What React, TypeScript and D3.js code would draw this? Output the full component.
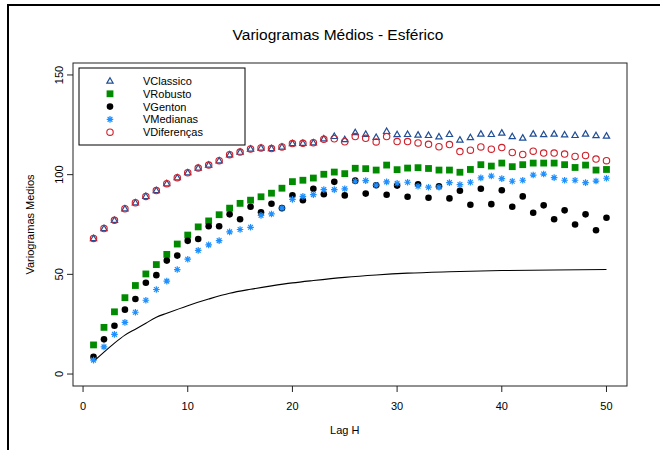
import React from "react";
import * as d3 from "d3";

// lags 1..50
const lags = d3.range(1, 51);

const vClassico = [
  68.0, 73.0, 77.1, 82.9, 85.9, 89.1, 92.0, 95.5, 98.5, 101.0,
  103.3, 104.8, 107.0, 110.0, 111.3, 112.9, 113.4, 113.1, 113.9, 115.6,
  115.7, 116.0, 118.0, 119.2, 117.6, 121.1, 120.3, 118.7, 121.7, 120.1,
  120.2, 119.9, 119.7, 119.0, 120.2, 117.4, 118.6, 120.4, 120.2, 120.9,
  119.1, 118.4, 120.4, 120.1, 120.4, 120.0, 119.7, 120.4, 119.6, 119.4,
];

const vRobusto = [
  14.6, 23.4, 31.2, 38.3, 44.4, 50.2, 54.9, 60.0, 65.2, 69.7,
  73.8, 76.8, 79.9, 83.2, 85.6, 87.2, 88.9, 90.7, 93.2, 96.5,
  97.2, 98.3, 100.2, 101.3, 100.5, 103.2, 103.0, 102.3, 104.8, 102.5,
  103.3, 103.5, 103.1, 102.3, 102.3, 101.2, 102.6, 105.0, 104.3, 105.8,
  104.0, 105.0, 105.8, 105.8, 105.8, 105.0, 103.6, 104.8, 102.3, 102.6,
];

const vGenton = [
  8.6, 17.4, 24.2, 32.3, 37.6, 45.8, 49.6, 56.9, 59.4, 66.8,
  67.7, 74.1, 74.1, 80.1, 77.6, 83.9, 81.1, 85.4, 83.2, 89.6,
  87.2, 92.9, 90.2, 96.4, 89.6, 97.0, 90.5, 94.7, 89.9, 94.5,
  88.9, 95.2, 88.4, 94.2, 88.1, 91.9, 84.9, 92.9, 85.2, 92.2,
  83.9, 89.1, 80.9, 84.6, 77.6, 82.1, 75.0, 80.1, 72.1, 78.4,
];

const vMedianas = [
  7.0, 13.6, 19.9, 25.9, 31.0, 37.0, 42.4, 46.6, 52.4, 57.6,
  62.0, 64.8, 66.9, 71.3, 72.5, 73.6, 79.6, 80.3, 83.2, 87.6,
  89.1, 90.0, 92.5, 92.5, 92.9, 96.7, 97.0, 94.7, 96.4, 95.7,
  96.2, 94.2, 93.7, 93.7, 96.0, 95.0, 96.2, 98.4, 99.3, 98.0,
  96.7, 97.2, 99.8, 100.3, 98.5, 97.2, 97.2, 96.0, 96.8, 98.2,
];

const vDiferencas = [
  68.0, 73.0, 77.1, 82.9, 85.9, 89.1, 92.0, 95.5, 98.5, 101.0,
  103.3, 104.8, 107.0, 110.0, 111.3, 112.9, 113.4, 113.1, 113.9, 115.6,
  115.7, 116.0, 117.8, 118.0, 116.5, 119.1, 118.2, 116.4, 119.1, 116.6,
  116.6, 115.9, 115.2, 114.0, 115.1, 111.6, 112.3, 113.9, 112.8, 113.6,
  111.1, 110.1, 111.8, 110.8, 110.8, 110.3, 109.1, 109.6, 107.8, 107.0,
];

// fitted (theoretical) curve
const lagModel = [1, 2, 3, 4, 5, 6, 7, 8, 10, 12, 14, 16, 18, 20, 22, 25, 28, 31, 35, 40, 45, 50];
const valModel = [6.3, 11, 15.5, 19.5, 22.5, 25.5, 28.5, 30.5, 34.3, 37.6, 40.5, 42.5, 44.2, 45.7, 46.9, 48.5, 49.7, 50.6, 51.3, 51.9, 52.2, 52.4];

const xTicks = [0, 10, 20, 30, 40, 50];
const yTicks = [0, 50, 100, 150];

const legendLabels = ["VClassico", "VRobusto", "VGenton", "VMedianas", "VDiferenças"];

const font = "'Liberation Sans', Arial, Helvetica, sans-serif";

const W = 660;
const H = 450;
const box = { left: 73, right: 627, top: 63, bottom: 386 };

const tri = d3.symbol(d3.symbolTriangle, 17)();

function Marker({ kind, x, y }) {
  if (kind === "tri")
    return <path d={tri} transform={`translate(${x},${y + 0.3})`} fill="none" stroke="#1F4E96" strokeWidth={1.2} />;
  if (kind === "sq")
    return <rect x={x - 3.4} y={y - 3.4} width={6.8} height={6.8} fill="#008B00" />;
  if (kind === "dot")
    return <circle cx={x} cy={y} r={3.3} fill="#000" />;
  if (kind === "ast") {
    const r = 3.3;
    const d = r * 0.72;
    return (
      <path
        d={`M${x - r},${y}H${x + r}M${x},${y - r}V${y + r}M${x - d},${y - d}L${x + d},${y + d}M${x - d},${y + d}L${x + d},${y - d}`}
        stroke="#1E90FF"
        strokeWidth={1.2}
        fill="none"
      />
    );
  }
  return <circle cx={x} cy={y} r={3.2} fill="none" stroke="#D0202A" strokeWidth={1.1} />;
}

export default function App() {
  const x = d3.scaleLinear().domain([-0.96, 51.96]).range([box.left, box.right]);
  const y = d3.scaleLinear().domain([-6, 156]).range([box.bottom, box.top]);

  const line = d3
    .line<number>()
    .x((d, i) => x(lagModel[i]))
    .y((d) => y(d))
    .curve(d3.curveMonotoneX);

  const series = [
    { kind: "tri", values: vClassico },
    { kind: "sq", values: vRobusto },
    { kind: "dot", values: vGenton },
    { kind: "ast", values: vMedianas },
    { kind: "circ", values: vDiferencas },
  ];

  return (
    <svg
      width={W}
      height={H}
      style={{ position: "absolute", left: 0, top: 0, background: "#fff" }}
      fontFamily={font}
    >
      <rect x={0} y={0} width={W} height={H} fill="#fff" />
      {/* outer frame */}
      <rect x={8} y={5} width={W + 20} height={H + 20} fill="none" stroke="#000" strokeWidth={2} />

      <text x={338} y={40} textAnchor="middle" fontSize={15.5} fill="#000">
        Variogramas Médios - Esférico
      </text>

      {/* model curve */}
      <path d={line(valModel) || ""} fill="none" stroke="#000" strokeWidth={1.1} />

      {/* points */}
      {series.map((s) =>
        s.values.map((v, i) => <Marker key={s.kind + i} kind={s.kind} x={x(lags[i])} y={y(v)} />)
      )}

      {/* plot box */}
      <rect
        x={box.left}
        y={box.top}
        width={box.right - box.left}
        height={box.bottom - box.top}
        fill="none"
        stroke="#222"
        strokeWidth={1}
      />

      {/* x axis */}
      <g>
        {xTicks.map((t) => (
          <g key={t}>
            <line x1={x(t)} x2={x(t)} y1={box.bottom} y2={box.bottom + 6} stroke="#222" />
            <text x={x(t)} y={410} textAnchor="middle" fontSize={11} fill="#000">
              {t}
            </text>
          </g>
        ))}
      </g>
      <text x={x(25)} y={434} textAnchor="middle" fontSize={11} fill="#000">
        Lag H
      </text>

      {/* y axis */}
      <g>
        {yTicks.map((t) => (
          <g key={t}>
            <line x1={box.left - 6} x2={box.left} y1={y(t)} y2={y(t)} stroke="#222" />
            <text
              transform={`translate(${box.left - 10},${y(t)}) rotate(-90)`}
              textAnchor="middle"
              fontSize={11}
              fill="#000"
            >
              {t}
            </text>
          </g>
        ))}
      </g>
      <text
        transform={`translate(34,${(box.top + box.bottom) / 2}) rotate(-90)`}
        textAnchor="middle"
        fontSize={11}
        fill="#000"
      >
        Variogramas Medios
      </text>

      {/* legend */}
      <rect x={79} y={68} width={166} height={77} fill="#fff" stroke="#000" strokeWidth={1} />
      {legendLabels.map((lab, i) => {
        const ly = 81 + i * 12.8;
        return (
          <g key={lab}>
            <Marker kind={series[i].kind} x={110} y={ly} />
            <text x={143} y={ly + 4} fontSize={11} fill="#000">
              {lab}
            </text>
          </g>
        );
      })}
    </svg>
  );
}
